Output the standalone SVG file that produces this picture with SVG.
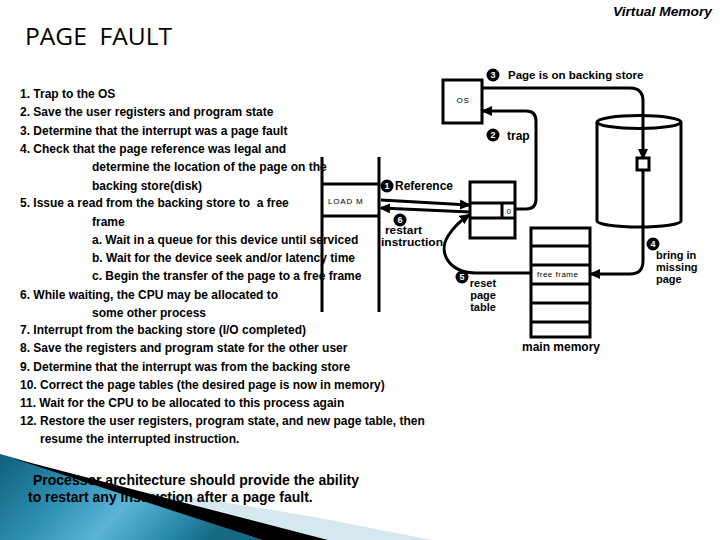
<svg xmlns="http://www.w3.org/2000/svg" width="720" height="540" viewBox="0 0 720 540">
<style>
.t{font-family:"Liberation Sans",Arial,sans-serif;font-weight:bold;font-size:12px;fill:#000}
.c{font-family:"Liberation Sans",Arial,sans-serif;font-weight:bold;font-size:11px;fill:#000}
.s{font-family:"Liberation Sans",Arial,sans-serif;font-size:8px;fill:#000;letter-spacing:0.8px}
.ln{fill:none;stroke:#000;stroke-width:3}
.bx{fill:#fff;stroke:#000;stroke-width:3}
.num{fill:#000}
.nt{font-family:"Liberation Sans",Arial,sans-serif;font-weight:bold;font-size:9px;fill:#fff;text-anchor:middle}
.ar{fill:none;stroke:#000;stroke-width:3;marker-end:url(#ah)}
</style>
<defs>
<marker id="ah" markerUnits="userSpaceOnUse" markerWidth="11" markerHeight="10" refX="9" refY="5" orient="auto">
<path d="M0,0 L11,5 L0,10 Z" fill="#000"/>
</marker>
<linearGradient id="teal" x1="0" y1="0" x2="1" y2="0.3">
<stop offset="0" stop-color="#0f5f7a"/>
<stop offset="0.35" stop-color="#2f8fb2"/>
<stop offset="0.6" stop-color="#5ab5d6"/>
<stop offset="0.85" stop-color="#2a8aaa"/>
<stop offset="1" stop-color="#156b86"/>
</linearGradient>
</defs>
<rect width="720" height="540" fill="#fff"/>

<g id="swoosh">
<path d="M0,454 L18,459 L262,540 L0,540 Z" fill="url(#teal)"/>
<path d="M143,491 Q250,505 330,520 L432,540 L328,540 Z" fill="#d6e8ef"/>
<path d="M12,458 L328,540 L262,540 Z" fill="#000"/>
</g>

<g id="title">
<text x="25" y="45" font-family="'Open Sans','Liberation Sans',sans-serif" font-size="24" textLength="147" lengthAdjust="spacingAndGlyphs" xml:space="preserve">PAGE  FAULT</text>
<text x="712" y="16" text-anchor="end" font-family="'Liberation Sans',Arial,sans-serif" font-size="13" font-weight="bold" font-style="italic" textLength="99" lengthAdjust="spacingAndGlyphs">Virtual Memory</text>
</g>

<g id="steps">
<text class="t" x="20" y="98">1. Trap to the OS</text>
<text class="t" x="20" y="116">2. Save the user registers and program state</text>
<text class="t" x="20" y="135">3. Determine that the interrupt was a page fault</text>
<text class="t" x="20" y="153">4. Check that the page reference was legal and</text>
<text class="t" x="92" y="171">determine the location of the page on the</text>
<text class="t" x="92" y="190">backing store(disk)</text>
<text class="t" x="20" y="207" xml:space="preserve">5. Issue a read from the backing store to  a free</text>
<text class="t" x="92" y="226">frame</text>
<text class="t" x="92" y="244">a. Wait in a queue for this device until serviced</text>
<text class="t" x="92" y="262">b. Wait for the device seek and/or latency time</text>
<text class="t" x="92" y="280">c. Begin the transfer of the page to a free frame</text>
<text class="t" x="20" y="299">6. While waiting, the CPU may be allocated to</text>
<text class="t" x="92" y="317">some other process</text>
<text class="t" x="20" y="334">7. Interrupt from the backing store (I/O completed)</text>
<text class="t" x="20" y="352">8. Save the registers and program state for the other user</text>
<text class="t" x="20" y="371">9. Determine that the interrupt was from the backing store</text>
<text class="t" x="20" y="389">10. Correct the page tables (the desired page is now in memory)</text>
<text class="t" x="20" y="407">11. Wait for the CPU to be allocated to this process again</text>
<text class="t" x="20" y="425">12. Restore the user registers, program state, and new page table, then</text>
<text class="t" x="40" y="443">resume the interrupted instruction.</text>
</g>

<g id="note">
<text class="t" x="33" y="485" style="font-size:14px">Processor architecture should provide the ability</text>
<text class="t" x="28" y="502" style="font-size:14px">to restart any instruction after a page fault.</text>
</g>

<g id="program">
<line class="ln" x1="322" y1="157" x2="322" y2="312"/>
<line class="ln" x1="379" y1="157" x2="379" y2="312"/>
<line class="ln" x1="322" y1="184" x2="379" y2="184"/>
<line class="ln" x1="322" y1="216" x2="379" y2="216"/>
<text class="s" x="328" y="204">LOAD M</text>
</g>

<g id="os">
<rect class="bx" x="443" y="80" width="39" height="43"/>
<text class="s" x="463" y="103" text-anchor="middle">OS</text>
</g>

<g id="pagetable">
<rect class="bx" x="470" y="182" width="45" height="56"/>
<line class="ln" x1="470" y1="203" x2="515" y2="203"/>
<line class="ln" x1="470" y1="218" x2="515" y2="218"/>
<line class="ln" x1="502" y1="203" x2="502" y2="218"/>
<text class="s" x="509" y="214" text-anchor="middle">0</text>
</g>

<g id="disk">
<path class="bx" d="M597,122 L597,221 A42,6 0 0 0 681,221 L681,122"/>
<ellipse class="ln" cx="639" cy="122" rx="42" ry="6.5"/>
</g>

<g id="memory">
<rect class="bx" x="531" y="228" width="59" height="109"/>
<line class="ln" x1="531" y1="246" x2="590" y2="246"/>
<line class="ln" x1="531" y1="265" x2="590" y2="265"/>
<line class="ln" x1="531" y1="284" x2="590" y2="284"/>
<line class="ln" x1="531" y1="303" x2="590" y2="303"/>
<line class="ln" x1="531" y1="322" x2="590" y2="322"/>
<text class="s" x="537" y="277" style="letter-spacing:0.5px">free frame</text>
<text class="t" x="561" y="351" text-anchor="middle">main memory</text>
</g>

<g id="connectors">
<path class="ar" d="M381,200 L469,205"/>
<path class="ar" d="M470,212 L381,208"/>
<path class="ar" d="M516,209 L526,209 Q536,209 536,199 L536,121 Q536,111 526,111 L483,111"/>
<path class="ar" d="M482,88 L630,88 Q643,88 643,101 L643,158"/>
<path class="ar" d="M643,170 L643,261 Q643,274 630,274 L591,274"/>
<path class="ar" d="M531,273 L475,273 C448,272 438,252 448,236 C453,228 460,221 469,215"/>
<rect x="637" y="158" width="12" height="12" fill="#fff" stroke="#000" stroke-width="3"/>
</g>

<g id="labels">
<circle class="num" cx="493" cy="75" r="6.5"/><text class="nt" x="493" y="78">3</text>
<text class="t" x="508" y="79" style="font-size:11.5px">Page is on backing store</text>
<circle class="num" cx="493" cy="135" r="6.5"/><text class="nt" x="493" y="138">2</text>
<text class="t" x="507" y="140">trap</text>
<circle class="num" cx="387" cy="186" r="6.5"/><text class="nt" x="387" y="189">1</text>
<text class="t" x="395" y="190">Reference</text>
<circle class="num" cx="400" cy="220" r="6.5"/><text class="nt" x="400" y="223">6</text>
<text class="c" x="385" y="234" textLength="37" lengthAdjust="spacingAndGlyphs">restart</text>
<text class="c" x="381" y="246" textLength="62" lengthAdjust="spacingAndGlyphs">instruction</text>
<circle class="num" cx="462" cy="277" r="6.5"/><text class="nt" x="462" y="280">5</text>
<text class="c" x="483" y="287" text-anchor="middle">reset</text>
<text class="c" x="483" y="299" text-anchor="middle">page</text>
<text class="c" x="483" y="311" text-anchor="middle">table</text>
<circle class="num" cx="653" cy="244" r="6.5"/><text class="nt" x="653" y="247">4</text>
<text class="c" x="656" y="259">bring in</text>
<text class="c" x="656" y="271">missing</text>
<text class="c" x="656" y="283">page</text>
</g>
</svg>
